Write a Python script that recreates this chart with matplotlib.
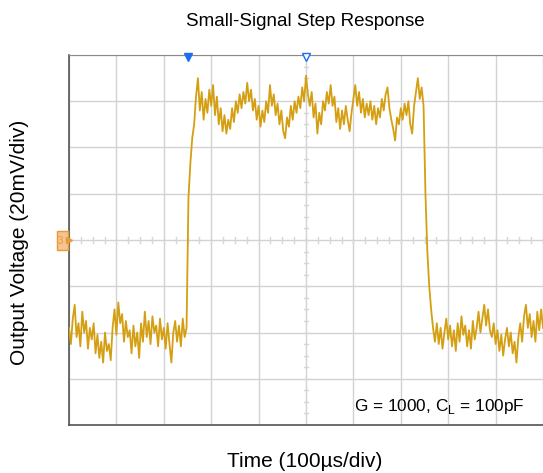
import numpy as np
import matplotlib.pyplot as plt
from matplotlib.patches import Rectangle

plt.rcParams['font.family'] = ['Liberation Sans', 'DejaVu Sans']
plt.rcParams['mathtext.fontset'] = 'custom'
plt.rcParams['mathtext.rm'] = 'Liberation Sans'

# scope trace, mV, one sample every 4 us
dt_us = 4
low_before = [-38, -45, -34, -28, -42, -36, -46, -31, -40, -35,
              -47, -38, -43, -36, -49, -41, -51, -44, -53, -40,
              -48, -45, -52, -38, -30, -41, -27, -36, -32, -44,
              -35, -42, -39, -49, -37, -46, -40, -51, -36, -44,
              -31, -42, -35, -45, -33, -40, -37, -46, -34, -43,
              -38, -47, -36, -45, -53, -40, -35, -44, -37, -46,
              -34, -42, -38]
rise = [18, 33, 44, 50, 62, 70]
high = [56, 64, 52, 61, 55, 65, 58, 67, 54, 62,
        50, 57, 47, 54, 46, 52, 48, 57, 51, 60,
        55, 63, 57, 64, 59, 68, 60, 65, 56, 61,
        52, 58, 49, 56, 51, 60, 55, 67, 58, 63,
        54, 59, 50, 56, 47, 44, 53, 49, 58, 52,
        60, 55, 62, 57, 66, 60, 71, 63, 58, 64,
        53, 59, 46, 55, 50, 60, 56, 64, 59, 67,
        58, 62, 51, 57, 48, 56, 50, 58, 52, 47,
        55, 61, 67, 58, 64, 55, 61, 53, 59, 54,
        60, 52, 58, 50, 57, 53, 61, 56, 63, 66,
        57, 52, 48, 43, 53, 50, 57, 52, 59, 54,
        60, 50, 46, 58, 64, 70, 61, 66, 58]
fall = [20, -5, -20, -30, -38, -44]
low_after = [-36, -45, -38, -47, -40, -34, -43, -37, -46, -39,
             -48, -36, -44, -33, -41, -37, -46, -39, -47, -35,
             -43, -38, -31, -40, -34, -28, -37, -30, -39, -42,
             -36, -45, -39, -48, -41, -50, -43, -38, -46, -40,
             -49, -44, -53, -42, -36, -44, -33, -28, -38, -32,
             -42, -35, -44, -31, -39, -30, -38]

v_mV = np.array(low_before + rise + high + fall + low_after, dtype=float)
t_us = np.arange(len(v_mV)) * dt_us

trigger_us = 250
center_us = 500
gain_text = 'G = 1000, C$_\\mathrm{L}$ = 100pF'

fig = plt.figure(figsize=(5.43, 4.73), dpi=100)
ax = fig.add_axes([69 / 543, 48 / 473, 474 / 543, 370 / 473])

ax.set_xlim(0, 1000)
ax.set_ylim(-80, 80)
ax.set_xticks(np.arange(0, 1001, 100))
ax.set_yticks(np.arange(-80, 81, 20))
ax.tick_params(length=0, labelbottom=False, labelleft=False)
ax.grid(True, color='#d2d2d2', lw=1)
ax.set_axisbelow(True)

# minor division marks on the centre lines
for tx in np.arange(0, 1001, 25):
    ax.plot([tx, tx], [-1.2, 1.2], color='#d6d6d6', lw=1, zorder=1)
for vy in np.arange(-80, 81, 5):
    ax.plot([center_us - 5, center_us + 5], [vy, vy], color='#d6d6d6', lw=1, zorder=1)

ax.plot(t_us, v_mV, color='#d49f12', lw=1.3, zorder=3)

for side in ['left', 'bottom']:
    ax.spines[side].set_color('#555555')
    ax.spines[side].set_linewidth(1.2)
ax.spines['top'].set_color('#8a8a8a')
ax.spines['right'].set_visible(False)

# trigger / centre markers on top edge
ax.plot([trigger_us], [79], marker='v', ms=6, color='#1a6ef0', clip_on=False, zorder=5)
ax.plot([center_us], [79], marker='v', ms=6, mfc='white', mec='#1a6ef0', mew=1,
        clip_on=False, zorder=5)

# channel ground marker on left edge
ax.add_patch(Rectangle((-25, -4.5), 23, 8.5, facecolor='#f7c48e', edgecolor='#e8993a',
                       lw=1, clip_on=False, zorder=5))
ax.text(-19, -0.5, '3', color='#e8993a', fontsize=7, ha='center', va='center',
        clip_on=False, zorder=6)
ax.plot([-1], [0], marker='>', ms=4, color='#e8993a', clip_on=False, zorder=6)

ax.text(962, -72, gain_text, fontsize=12.4, ha='right', va='center', zorder=6)

fig.text(305 / 543, 1 - 21 / 473, 'Small-Signal Step Response', fontsize=13.5,
         ha='center', va='center')
fig.text(305 / 543, 1 - 461 / 473, 'Time (100\u00b5s/div)', fontsize=15,
         ha='center', va='center')
fig.text(20 / 543, 1 - 242 / 473, 'Output Voltage (20mV/div)', fontsize=15,
         ha='center', va='center', rotation=90)

fig.savefig('out.png', dpi=100)
